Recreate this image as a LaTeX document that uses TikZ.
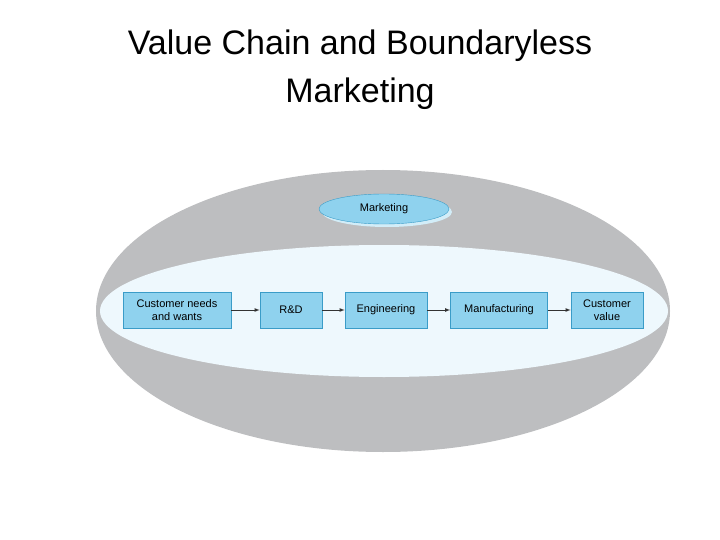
\documentclass[tikz,border=0pt]{standalone}
\usepackage{fontspec}
\setmainfont{Liberation Sans}
\usetikzlibrary{shapes.geometric}
\begin{document}
\begin{tikzpicture}[x=1pt,y=-1pt,
  box/.style={draw=boxline,fill=boxfill,line width=0.6pt,minimum height=36pt,align=center,font=\fontsize{11}{12.5}\selectfont,inner sep=1pt},
  arr/.style={-latex,line width=0.8pt,draw=black!80}]
\definecolor{boxfill}{HTML}{8FD2EE}
\definecolor{boxline}{HTML}{3A9CC8}
\definecolor{outergrey}{HTML}{BDBEC0}
\definecolor{innerfill}{HTML}{EEF8FD}
\useasboundingbox (0,0) rectangle (720,540);
\node (title) at (360,70) [align=center,font=\fontsize{34}{48}\selectfont] {Value Chain and Boundaryless\\Marketing};
\fill[outergrey] (383,311) ellipse [x radius=287, y radius=141];
\fill[innerfill] (384,311) ellipse [x radius=284, y radius=66];
\fill[boxfill!40] (387,212) ellipse [x radius=65, y radius=15];
\node (mkt) at (384,209) [ellipse,draw=boxline,fill=boxfill,minimum width=130pt,minimum height=30pt,inner sep=0pt,font=\fontsize{11}{12}\selectfont] {Marketing};
\node (cn) at (177,310) [box,minimum width=108pt] {Customer needs\\and wants};
\node (rd) at (291,310) [box,minimum width=62pt] {R\&D};
\node (en) at (386,310) [box,minimum width=82pt] {Engineering};
\node (mf) at (499,310) [box,minimum width=97pt] {Manufacturing};
\node (cv) at (607,310) [box,minimum width=72pt] {Customer\\value};
\draw[arr] (cn) -- (rd);
\draw[arr] (rd) -- (en);
\draw[arr] (en) -- (mf);
\draw[arr] (mf) -- (cv);
\end{tikzpicture}
\end{document}
